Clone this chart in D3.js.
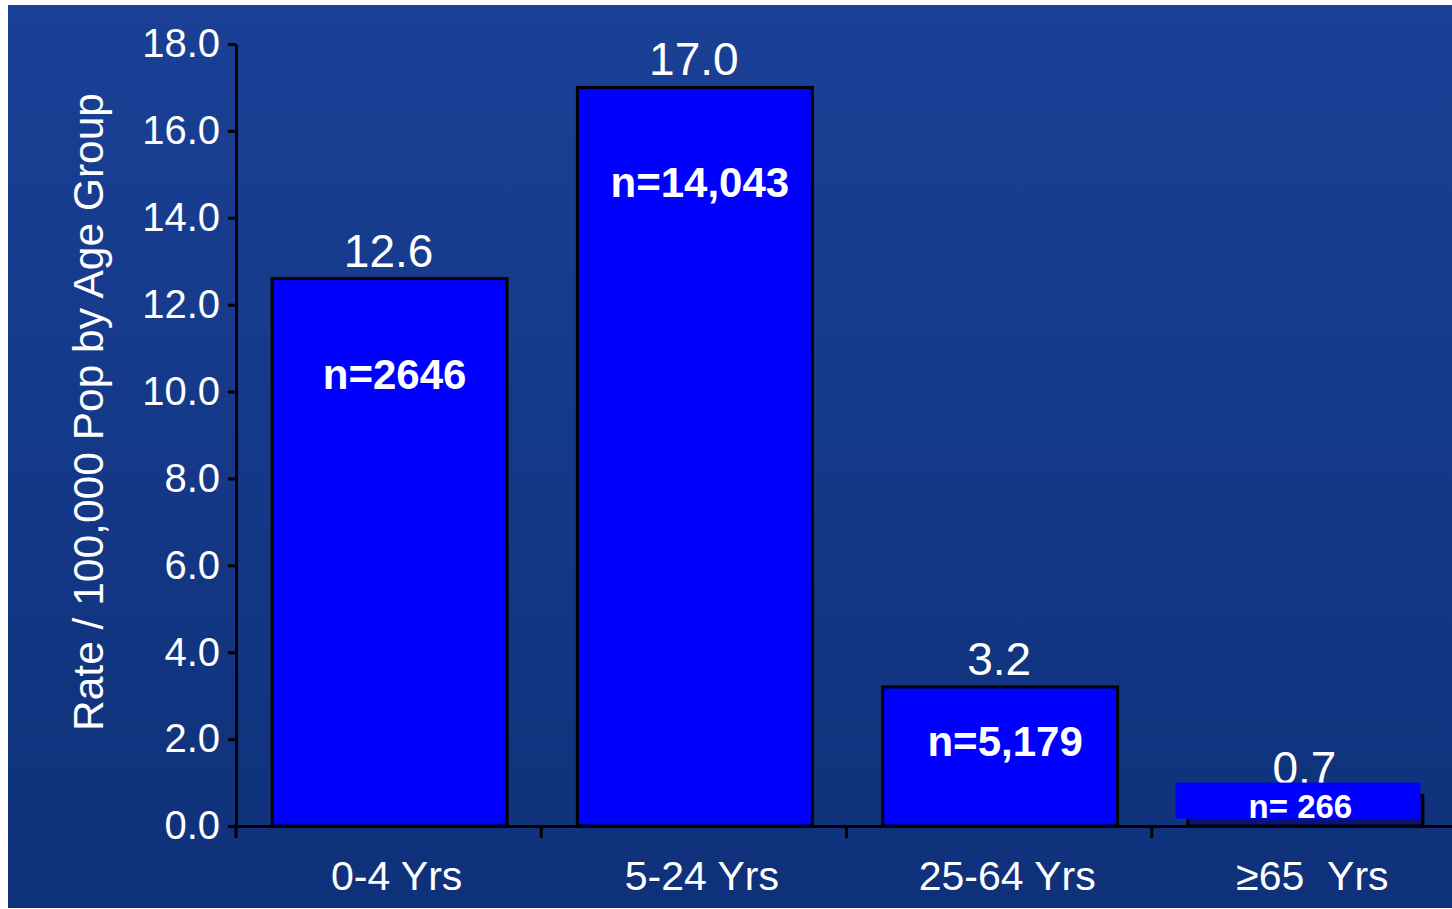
<!DOCTYPE html>
<html><head><meta charset="utf-8">
<script src="https://cdn.jsdelivr.net/npm/d3@7"></script>
<style>html,body{margin:0;padding:0;background:#fff;}svg{display:block;}</style>
</head><body>
<script>
const categories = ["0-4 Yrs", "5-24 Yrs", "25-64 Yrs", "\u226565\u00a0\u00a0Yrs"];
const rates = [12.6, 17.0, 3.2, 0.7];
const rateLabels = ["12.6", "17.0", "3.2", "0.7"];
const countLabels = ["n=2646", "n=14,043", "n=5,179", "n= 266"];
const yTicks = [0, 2, 4, 6, 8, 10, 12, 14, 16, 18];
const yTitle = "Rate / 100,000 Pop by Age Group";

const W = 1452, H = 909;
const svg = d3.select("body").append("svg").attr("width", W).attr("height", H);
const defs = svg.append("defs");
const g = defs.append("linearGradient").attr("id", "bg").attr("x1", 0).attr("y1", 0).attr("x2", 0).attr("y2", 1);
g.append("stop").attr("offset", "0%").attr("stop-color", "#1a4096");
g.append("stop").attr("offset", "100%").attr("stop-color", "#0f317a");
svg.append("rect").attr("x", 8).attr("y", 5).attr("width", W - 8).attr("height", 903).attr("fill", "url(#bg)");

const font = "'Liberation Sans', Arial, sans-serif";
const x = d3.scaleBand().domain(categories).range([236, 1457]).padding(0);
const y = d3.scaleLinear().domain([0, 18]).range([826, 44]);
const barW = 235;

// bars
const barFill = (i) => i === 3 ? "#0a1478" : "#0000ff";
svg.selectAll("rect.bar").data(rates).enter().append("rect")
  .attr("class", "bar")
  .attr("x", (d, i) => x(categories[i]) + x.bandwidth() / 2 - barW / 2 + 1)
  .attr("y", d => y(d))
  .attr("width", barW)
  .attr("height", d => y(0) - y(d))
  .attr("fill", (d, i) => barFill(i))
  .attr("stroke", "#000").attr("stroke-width", 3);

// value labels
svg.selectAll("text.val").data(rates).enter().append("text")
  .attr("x", (d, i) => x(categories[i]) + x.bandwidth() / 2)
  .attr("y", d => y(d) - 12)
  .attr("text-anchor", "middle")
  .attr("font-family", font).attr("font-size", 46).attr("fill", "#fff")
  .text((d, i) => rateLabels[i]);

// count labels
rates.forEach((d, i) => {
  const cx = x(categories[i]) + x.bandwidth() / 2;
  if (i === 3) {
    svg.append("rect").attr("x", cx - 129).attr("y", y(d) - 13)
      .attr("width", 245).attr("height", 36).attr("fill", "#0000ff");
    svg.append("text").attr("x", cx - 4).attr("y", y(d) + 22)
      .attr("text-anchor", "middle").attr("font-family", font).attr("font-weight", "bold")
      .attr("font-size", 33).attr("fill", "#fff").text(countLabels[i]);
  } else {
    const h = y(0) - y(d);
    svg.append("text").attr("x", cx + 6).attr("y", y(d) + Math.min(110, h / 2))
      .attr("text-anchor", "middle").attr("font-family", font).attr("font-weight", "bold")
      .attr("font-size", 42).attr("fill", "#fff").text(countLabels[i]);
  }
});

// y axis
const ya = svg.append("g").attr("transform", "translate(236,0)")
  .call(d3.axisLeft(y).tickValues(yTicks).tickFormat(d3.format(".1f")).tickSizeInner(8).tickSizeOuter(0).tickPadding(8));
ya.select(".domain").attr("stroke", "#000").attr("stroke-width", 3);
ya.selectAll(".tick line").attr("stroke", "#000").attr("stroke-width", 3);
ya.selectAll(".tick text").attr("font-family", font).attr("font-size", 40).attr("fill", "#fff");

// x axis
const xa = svg.append("g").attr("transform", "translate(0,826)")
  .call(d3.axisBottom(x).tickSize(0).tickPadding(0));
xa.select(".domain").attr("stroke", "#000").attr("stroke-width", 3);
xa.selectAll(".tick line").remove();
xa.selectAll(".tick text").attr("font-family", font).attr("font-size", 41).attr("fill", "#fff")
  .attr("dy", null).attr("y", 64).attr("x", 8);
svg.selectAll("line.xtick").data(categories).enter().append("line")
  .attr("x1", d => x(d)).attr("x2", d => x(d))
  .attr("y1", 826).attr("y2", 838).attr("stroke", "#000").attr("stroke-width", 3);

// y title
svg.append("text").attr("transform", "translate(103,412) rotate(-90)")
  .attr("text-anchor", "middle").attr("font-family", font).attr("font-size", 42.5).attr("fill", "#fff")
  .text(yTitle);
</script>
</body></html>
